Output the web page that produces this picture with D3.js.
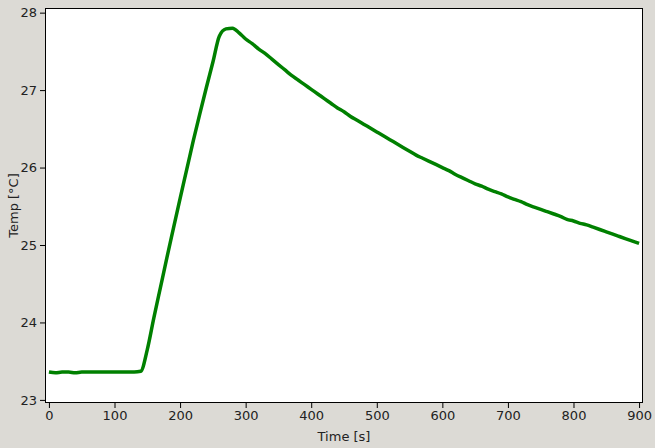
<!DOCTYPE html>
<html>
<head>
<meta charset="utf-8">
<script src="https://cdn.jsdelivr.net/npm/d3@7"></script>
<style>
  html, body { margin: 0; padding: 0; background: #dcdad5; }
  svg { display: block; }
  text { font-family: "DejaVu Sans", sans-serif; }
</style>
</head>
<body>
<svg id="chart" width="655" height="448"></svg>
<script>
const times = d3.range(0, 901, 10);
const temps = [
  23.36, 23.35, 23.36, 23.36, 23.35, 23.36, 23.36, 23.36, 23.36, 23.36,
  23.36, 23.36, 23.36, 23.36, 23.37, 23.65, 24.06, 24.45, 24.84, 25.22,
  25.60, 25.97, 26.34, 26.69, 27.03, 27.36, 27.70, 27.79, 27.80, 27.74,
  27.66, 27.60, 27.53, 27.47, 27.40, 27.33, 27.26, 27.19, 27.13, 27.07,
  27.01, 26.95, 26.89, 26.83, 26.77, 26.72, 26.66, 26.61, 26.56, 26.51,
  26.46, 26.41, 26.36, 26.31, 26.26, 26.21, 26.16, 26.12, 26.08, 26.04,
  26.00, 25.96, 25.91, 25.87, 25.83, 25.79, 25.76, 25.72, 25.69, 25.66,
  25.62, 25.59, 25.56, 25.52, 25.49, 25.46, 25.43, 25.40, 25.37, 25.33,
  25.31, 25.28, 25.26, 25.23, 25.20, 25.17, 25.14, 25.11, 25.08, 25.05,
  25.02
];
const xTicks = [0, 100, 200, 300, 400, 500, 600, 700, 800, 900];
const yTicks = [23, 24, 25, 26, 27, 28];
const xLabel = "Time [s]";
const yLabel = "Temp [°C]";

const W = 655, H = 448;
const m = { left: 45, top: 8, right: 12, bottom: 45 };
const svg = d3.select("#chart");

const x = d3.scaleLinear().domain([-6, 906]).range([m.left, W - m.right]);
const y = d3.scaleLinear().domain([22.96, 28.06]).range([H - m.bottom, m.top]);

svg.append("rect")
  .attr("x", m.left).attr("y", m.top)
  .attr("width", W - m.left - m.right).attr("height", H - m.top - m.bottom)
  .attr("fill", "#ffffff");

const data = times.map((t, i) => ({ t, v: temps[i] }));

svg.append("path")
  .datum(data)
  .attr("fill", "none")
  .attr("stroke", "#008000")
  .attr("stroke-width", 3.5)
  .attr("stroke-linejoin", "round")
  .attr("d", d3.line().x(d => x(d.t)).y(d => y(d.v)).curve(d3.curveMonotoneX));

svg.append("rect")
  .attr("x", m.left + 0.5).attr("y", m.top + 0.5)
  .attr("width", W - m.left - m.right - 1).attr("height", H - m.top - m.bottom - 1)
  .attr("fill", "none").attr("stroke", "#000").attr("stroke-width", 1);

const xAxis = svg.append("g")
  .attr("transform", `translate(0,${H - m.bottom})`)
  .call(d3.axisBottom(x).tickValues(xTicks).tickSize(5).tickPadding(3).tickFormat(d3.format("d")));
const yAxis = svg.append("g")
  .attr("transform", `translate(${m.left},0)`)
  .call(d3.axisLeft(y).tickValues(yTicks).tickSize(5).tickPadding(3).tickFormat(d3.format("d")));

[xAxis, yAxis].forEach(g => {
  g.select(".domain").remove();
  g.selectAll("line").attr("stroke", "#000");
  g.selectAll("text").attr("fill", "#222").style("font-size", "13px").style("font-family", "DejaVu Sans, sans-serif");
});

svg.append("text")
  .attr("x", (m.left + W - m.right) / 2).attr("y", 441)
  .attr("text-anchor", "middle").attr("fill", "#222").style("font-size", "13px")
  .text(xLabel);

svg.append("text")
  .attr("transform", `translate(18,${(m.top + H - m.bottom) / 2}) rotate(-90)`)
  .attr("text-anchor", "middle").attr("fill", "#222").style("font-size", "13px")
  .text(yLabel);
</script>
</body>
</html>
